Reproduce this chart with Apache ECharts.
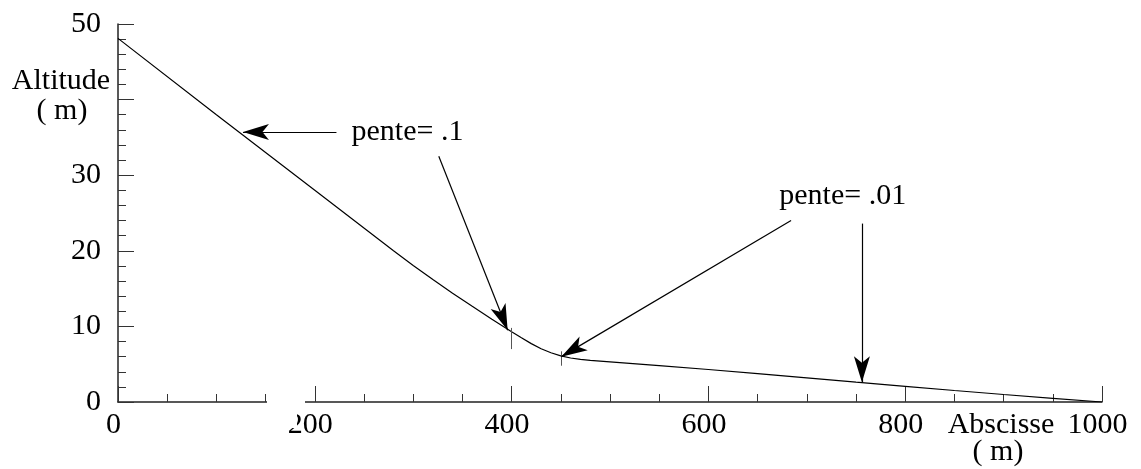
<!DOCTYPE html>
<html>
<head>
<meta charset="utf-8">
<title>Profil en long</title>
<script src="https://cdn.jsdelivr.net/npm/echarts@6/dist/echarts.min.js"></script>
<style>
  html, body { margin: 0; padding: 0; background: #fff; }
  #chart { width: 1141px; height: 469px; }
</style>
</head>
<body>
<div id="chart"></div>
<script>
// Longitudinal profile: altitude (m) against distance (m)
const abscisse = [0, 100, 200, 280, 300, 320, 340, 360, 380, 400, 410, 420, 430, 440, 450,
                  460, 470, 480, 500, 550, 600, 650, 700, 750, 800, 850, 900, 950, 1000];
const altitude = [48.1, 38.0, 28.0, 20.0, 18.05, 16.2, 14.4, 12.65, 10.95, 9.3, 8.5, 7.72, 7.05, 6.52, 6.1,
                  5.82, 5.63, 5.5, 5.3, 4.8, 4.3, 3.75, 3.2, 2.62, 2.07, 1.52, 0.99, 0.48, 0];

// Small vertical marks where the slope changes: [x, yTop, yBottom]
const breakMarks = [[400, 9.8, 7.0], [450, 6.7, 4.8]];

// Annotation arrows: tail and head, in data units
const arrowTails = [[222, 35.7], [326, 32.5], [684, 24.0], [756, 23.6]];
const arrowHeads = [[127, 35.7], [396, 9.5], [450.5, 6.0], [756, 2.6]];

// Annotation texts: [x, y, text]
const notes = [[237.3, 35.75, 'pente= .1'], [672, 27.2, 'pente= .01']];

// Labelled ticks (40 is left blank: the axis title sits there)
const xTicks = [0, 200, 400, 600, 800, 1000];
const yTicks = [0, 10, 20, 30, 50];

const FONT = '"Liberation Serif", "Times New Roman", serif';

const chart = echarts.init(document.getElementById('chart'), null, { renderer: 'canvas' });

const profile = abscisse.map((x, i) => [x, altitude[i]]);

const markLines = [];
breakMarks.forEach(m => {
  markLines.push([
    { coord: [m[0], m[1]], symbol: 'none', lineStyle: { color: '#555', width: 1, type: 'solid' } },
    { coord: [m[0], m[2]], symbol: 'none' }
  ]);
});
arrowTails.forEach((t, i) => {
  markLines.push([
    { coord: t, symbol: 'none' },
    { coord: arrowHeads[i], symbol: 'arrow', symbolSize: [12, 26] }
  ]);
});

chart.setOption({
  animation: false,
  backgroundColor: '#ffffff',
  grid: { left: 118, right: 39, top: 24, bottom: 67, containLabel: false },
  xAxis: {
    type: 'value',
    min: 0,
    max: 1000,
    interval: 200,
    axisLine: { show: true, onZero: false, lineStyle: { color: '#222', width: 1.5 } },
    axisTick: { show: true, inside: true, length: 16, lineStyle: { color: '#333', width: 1 } },
    minorTick: { show: true, splitNumber: 4, length: 8, lineStyle: { color: '#333', width: 1 } },
    splitLine: { show: false },
    minorSplitLine: { show: false },
    axisLabel: {
      show: true, margin: 8, color: '#000', fontFamily: FONT, fontSize: 30,
      padding: [0, 9, 0, 0],
      formatter: v => (xTicks.indexOf(v) >= 0 ? String(v) : '')
    }
  },
  yAxis: {
    type: 'value',
    min: 0,
    max: 50,
    interval: 10,
    axisLine: { show: true, onZero: false, lineStyle: { color: '#222', width: 1.5 } },
    axisTick: { show: true, inside: true, length: 16, lineStyle: { color: '#333', width: 1 } },
    minorTick: { show: true, splitNumber: 5, length: 8, lineStyle: { color: '#333', width: 1 } },
    splitLine: { show: false },
    minorSplitLine: { show: false },
    axisLabel: {
      show: true, margin: 17, color: '#000', fontFamily: FONT, fontSize: 30,
      formatter: v => (yTicks.indexOf(v) >= 0 ? String(v) : '')
    }
  },
  series: [
    {
      name: 'profil',
      type: 'line',
      data: profile,
      showSymbol: false,
      smooth: false,
      lineStyle: { color: '#000', width: 1.2 },
      markLine: {
        silent: true,
        symbol: ['none', 'arrow'],
        precision: 4,
        label: { show: false },
        lineStyle: { color: '#000', width: 1.2, type: 'solid' },
        emphasis: { disabled: true },
        data: markLines
      },
      z: 3
    },
    {
      name: 'notes',
      type: 'scatter',
      data: notes,
      symbolSize: 0,
      silent: true,
      itemStyle: { opacity: 1, color: '#000' },
      label: {
        show: true,
        position: 'right',
        distance: 0,
        color: '#000',
        opacity: 1,
        fontFamily: FONT,
        fontSize: 30,
        formatter: p => p.value[2]
      },
      z: 4
    }
  ],
  graphic: [
    // break in the horizontal axis line
    { type: 'rect', z: 100, shape: { x: 267, y: 396, width: 38, height: 10 }, style: { fill: '#fff' } },
    { type: 'rect', z: 100, shape: { x: 267, y: 406, width: 30, height: 22 }, style: { fill: '#fff' } },
    // axis titles
    { type: 'text', z: 101, x: 61, y: 81.5,
      style: { text: 'Altitude', font: '30px ' + FONT, fill: '#000', align: 'center', verticalAlign: 'middle' } },
    { type: 'text', z: 101, x: 62, y: 111,
      style: { text: '( m)', font: '30px ' + FONT, fill: '#000', align: 'center', verticalAlign: 'middle' } },
    { type: 'text', z: 101, x: 1001, y: 425,
      style: { text: 'Abscisse', font: '30px ' + FONT, fill: '#000', align: 'center', verticalAlign: 'middle' } },
    { type: 'text', z: 101, x: 998, y: 452,
      style: { text: '( m)', font: '30px ' + FONT, fill: '#000', align: 'center', verticalAlign: 'middle' } }
  ]
});
</script>
</body>
</html>
